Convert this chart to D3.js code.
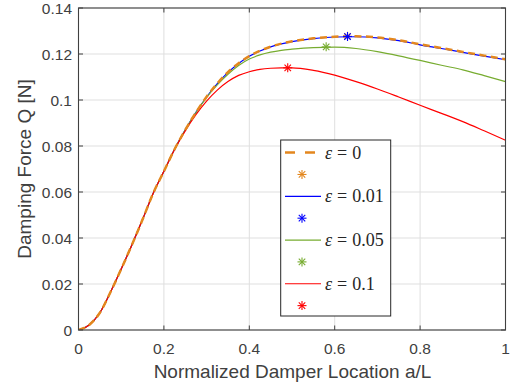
<!DOCTYPE html>
<html><head><meta charset="utf-8">
<script src="https://cdn.jsdelivr.net/npm/d3@7/dist/d3.min.js"></script>
<style>body{margin:0;background:#fff}svg{display:block}</style>
</head><body>
<svg id="c" width="516" height="385"></svg>
<script>
const xValues = [0,0.025,0.05,0.075,0.1,0.125,0.15,0.175,0.2,0.225,0.25,0.275,0.3,0.325,0.35,0.375,0.4,0.425,0.45,0.475,0.5,0.55,0.6,0.65,0.7,0.75,0.8,0.85,0.9,0.95,1.0];
const eps0   = [0,0.0022,0.0075,0.0165,0.0265,0.037,0.048,0.0595,0.069,0.0786,0.0870,0.0946,0.1014,0.1072,0.1121,0.1160,0.1191,0.1214,0.1232,0.1245,0.1255,0.1268,0.1275,0.1277,0.1272,0.1260,0.1242,0.1226,0.1209,0.1193,0.1177];
const eps001 = [0,0.0022,0.0075,0.0165,0.0265,0.037,0.048,0.0595,0.069,0.0786,0.0870,0.0946,0.1013,0.1071,0.1120,0.1159,0.1190,0.1213,0.1231,0.1244,0.1254,0.1267,0.1274,0.1275,0.1270,0.1258,0.1240,0.1224,0.1207,0.1191,0.1175];
const eps005 = [0,0.0022,0.0075,0.0165,0.0265,0.037,0.048,0.0595,0.069,0.0786,0.0870,0.0945,0.1011,0.1066,0.1112,0.1150,0.1178,0.1196,0.1208,0.1216,0.1221,0.1228,0.1230,0.1224,0.1210,0.1192,0.1172,0.1151,0.1131,0.1106,0.1080];
const eps01  = [0,0.0022,0.0075,0.0165,0.0265,0.037,0.048,0.0595,0.069,0.0785,0.0866,0.0936,0.0995,0.1043,0.1080,0.1107,0.1123,0.1133,0.1138,0.1140,0.1140,0.1129,0.1108,0.1080,0.1048,0.1013,0.0977,0.0942,0.0906,0.0866,0.0825];
const peakX = [0.63,0.63,0.58,0.49];
const peakY = [0.1277,0.1276,0.1231,0.1140];
const legendLabels = ["0","0.01","0.05","0.1"];
const xTicks = [0,0.2,0.4,0.6,0.8,1];
const yTicks = [0,0.02,0.04,0.06,0.08,0.1,0.12,0.14];

const series = [eps0, eps001, eps005, eps01];
const colors = ["#E3871E","#0000FF","#77AC30","#FF0000"];
const widths = [2.5,1.2,1.2,1.2];

const svg = d3.select("#c");
const L=78.5, R=505.5, T=8, B=330;
const x = d3.scaleLinear().domain([0,1]).range([L,R]);
const y = d3.scaleLinear().domain([0,0.14]).range([B,T]);
const textCol = "#404040", axisCol = "#404040";
const sans = "Liberation Sans, Arial, sans-serif";

const g = svg.append("g");
g.selectAll("line.gx").data(xTicks).join("line")
  .attr("x1",d=>x(d)).attr("x2",d=>x(d)).attr("y1",T).attr("y2",B)
  .attr("stroke","#DFDFDF").attr("stroke-width",1);
g.selectAll("line.gy").data(yTicks).join("line")
  .attr("y1",d=>y(d)).attr("y2",d=>y(d)).attr("x1",L).attr("x2",R)
  .attr("stroke","#DFDFDF").attr("stroke-width",1);

svg.append("clipPath").attr("id","clip").append("rect")
  .attr("x",L).attr("y",T).attr("width",R-L).attr("height",B-T);

const line = d3.line().x((d,i)=>x(xValues[i])).y(d=>y(d)).curve(d3.curveMonotoneX);
const plot = svg.append("g").attr("clip-path","url(#clip)");

function star(sel, cx, cy, col, r){
  const a = [[r,0],[0,r],[r*0.72,r*0.72],[r*0.72,-r*0.72]];
  a.forEach(([dx,dy])=>{
    sel.append("line").attr("x1",cx-dx).attr("y1",cy-dy).attr("x2",cx+dx).attr("y2",cy+dy)
      .attr("stroke",col).attr("stroke-width",1.1);
  });
}

// solid lines first, dashed ε=0 on top
[1,2,3,0].forEach(i=>{
  plot.append("path").attr("d",line(series[i])).attr("fill","none")
    .attr("stroke",colors[i]).attr("stroke-width",widths[i])
    .attr("stroke-dasharray", i===0 ? "7,4.5" : null);
});
[0,1,2,3].forEach(i=>star(svg.append("g"), x(peakX[i]), y(peakY[i]), colors[i], 4.5));

const ax = svg.append("g");
const tl = 4.5;
xTicks.forEach(t=>{
  ax.append("line").attr("x1",x(t)).attr("x2",x(t)).attr("y1",B).attr("y2",B-tl).attr("stroke",axisCol);
  ax.append("line").attr("x1",x(t)).attr("x2",x(t)).attr("y1",T).attr("y2",T+tl).attr("stroke",axisCol);
});
yTicks.forEach(t=>{
  ax.append("line").attr("y1",y(t)).attr("y2",y(t)).attr("x1",L).attr("x2",L+tl).attr("stroke",axisCol);
  ax.append("line").attr("y1",y(t)).attr("y2",y(t)).attr("x1",R).attr("x2",R-tl).attr("stroke",axisCol);
});
ax.append("rect").attr("x",L).attr("y",T).attr("width",R-L).attr("height",B-T)
  .attr("fill","none").attr("stroke",axisCol).attr("stroke-width",1.1);

const fmt = d => d===0 ? "0" : d===1 ? "1" : String(+d.toFixed(2));
ax.selectAll("text.xt").data(xTicks).join("text")
  .attr("x",d=>x(d)).attr("y",354).attr("text-anchor","middle")
  .attr("font-family",sans).attr("font-size",15.5).attr("fill",textCol)
  .text(fmt);
ax.selectAll("text.yt").data(yTicks).join("text")
  .attr("x",72).attr("y",d=>y(d)+5.5).attr("text-anchor","end")
  .attr("font-family",sans).attr("font-size",15.5).attr("fill",textCol)
  .text(fmt);

svg.append("text").attr("x",(L+R)/2+0.5).attr("y",377.5).attr("text-anchor","middle")
  .attr("font-family",sans).attr("font-size",19).attr("fill",textCol)
  .text("Normalized Damper Location a/L");
svg.append("text").attr("transform",`translate(31,${(T+B)/2}) rotate(-90)`).attr("text-anchor","middle")
  .attr("font-family",sans).attr("font-size",19).attr("fill",textCol)
  .text("Damping Force Q [N]");

const lg = svg.append("g");
lg.append("rect").attr("x",280.7).attr("y",140).attr("width",110).attr("height",176)
  .attr("fill","#fff").attr("stroke","#262626").attr("stroke-width",1);
const rowY = i => 152.6 + i*21.86;
series.forEach((s,i)=>{
  const yl = rowY(2*i);
  lg.append("line").attr("x1",285).attr("x2",321).attr("y1",yl).attr("y2",yl)
    .attr("stroke",colors[i]).attr("stroke-width",widths[i])
    .attr("stroke-dasharray", i===0 ? "10,10" : null);
  const t = lg.append("text").attr("x",325).attr("y",yl+6)
    .attr("font-family","Liberation Serif, Times New Roman, serif").attr("font-size",18).attr("fill","#262626");
  t.append("tspan").attr("font-style","italic").text("ε");
  t.append("tspan").attr("dx",5).text("=");
  t.append("tspan").attr("dx",5).text(legendLabels[i]);
  star(lg.append("g"), 302, rowY(2*i+1), colors[i], 4.5);
});
</script>
</body></html>
